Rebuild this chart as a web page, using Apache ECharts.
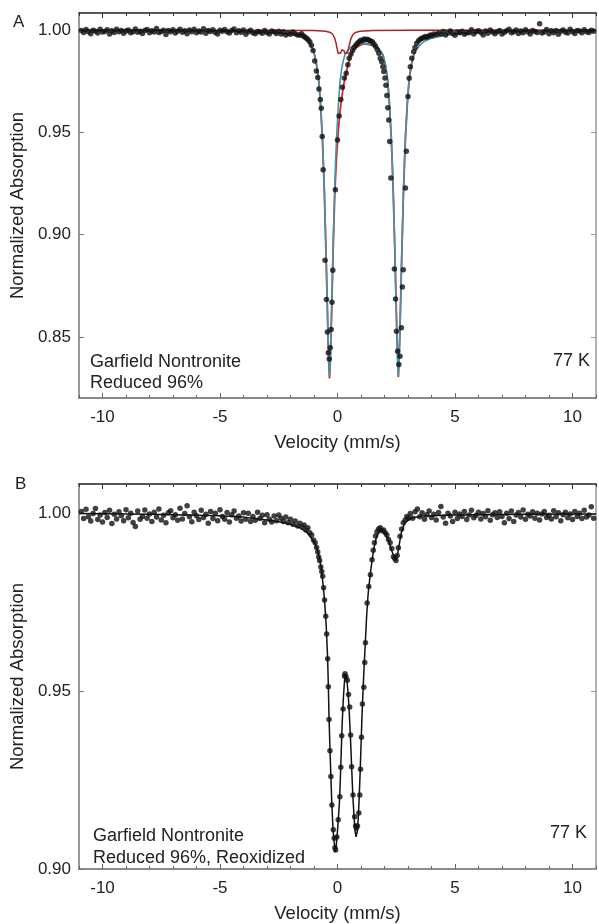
<!DOCTYPE html>
<html>
<head>
<meta charset="utf-8">
<script src="https://cdn.jsdelivr.net/npm/echarts@6/dist/echarts.min.js"></script>
<style>
html,body{margin:0;padding:0;background:#fff;}
#c{width:599px;height:924px;}
</style>
</head>
<body>
<div id="c"></div>
<script>
// ---------- data ----------
const velMajorTicks = [-10, -5, 0, 5, 10];
const absTicksA = [0.85, 0.90, 0.95, 1.00];
const absTicksB = [0.90, 0.95, 1.00];

// Panel A: measured points [velocity, normalized absorption]
const pointsA = [
[-10.9,0.9997],[-10.8,0.9988],[-10.7,1.0002],[-10.6,0.9992],[-10.5,0.9982],[-10.4,0.9999],[-10.3,0.9994],[-10.2,0.9985],[-10.1,1.0004],[-10.0,0.9990],
[-9.9,0.9993],[-9.8,1.0001],[-9.7,0.9980],[-9.6,0.9996],[-9.5,0.9988],[-9.4,1.0003],[-9.3,0.9991],[-9.2,0.9998],[-9.1,0.9984],[-9.0,0.9995],
[-8.9,1.0000],[-8.8,0.9987],[-8.7,0.9992],[-8.6,1.0005],[-8.5,0.9989],[-8.4,0.9994],[-8.3,0.9983],[-8.2,0.9997],[-8.1,1.0002],[-8.0,0.9986],
[-7.9,0.9996],[-7.8,0.9990],[-7.7,1.0007],[-7.6,0.9988],[-7.5,0.9993],[-7.4,0.9999],[-7.3,0.9978],[-7.2,0.9998],[-7.1,0.9991],[-7.0,1.0001],
[-6.9,0.9985],[-6.8,0.9994],[-6.7,1.0004],[-6.6,0.9989],[-6.5,0.9996],[-6.4,0.9982],[-6.3,1.0000],[-6.2,0.9992],[-6.1,1.0003],[-6.0,0.9987],
[-5.9,0.9995],[-5.8,0.9990],[-5.7,1.0006],[-5.6,0.9984],[-5.5,0.9997],[-5.4,0.9993],[-5.3,1.0001],[-5.2,0.9988],[-5.1,0.9981],[-5.0,0.9999],
[-4.9,0.9994],[-4.8,1.0002],[-4.7,0.9991],[-4.6,0.9985],[-4.5,0.9998],[-4.4,1.0005],[-4.3,0.9987],[-4.2,0.9996],[-4.1,0.9989],[-4.0,1.0000],
[-3.9,0.9979],[-3.8,0.9991],[-3.7,0.9999],[-3.6,0.9986],[-3.5,0.9982],[-3.4,0.9993],[-3.3,0.9990],[-3.2,0.9984],[-3.1,0.9997],[-3.0,0.9988],
[-2.9,0.9980],[-2.8,0.9995],[-2.7,0.9992],[-2.6,0.9983],[-2.5,0.9994],[-2.4,0.9981],[-2.3,0.9992],[-2.2,0.9975],[-2.1,0.9985],[-2.0,0.9979],
[-1.9,0.9990],[-1.8,0.9982],[-1.7,0.9976],
[-1.60,0.9975],[-1.53,0.9982],[-1.46,0.9972],[-1.39,0.9966],[-1.32,0.9960],[-1.25,0.9952],[-1.18,0.9943],[-1.11,0.9925],[-1.04,0.9900],
[-0.97,0.9848],[-0.90,0.9800],[-0.84,0.9768],[-0.79,0.9712],[-0.73,0.9660],[-0.69,0.9618],[-0.65,0.9480],[-0.61,0.9317],[-0.53,0.8875],
[-0.47,0.8683],[-0.43,0.8525],[-0.39,0.8423],[-0.35,0.8393],[-0.31,0.8447],[-0.27,0.8537],[-0.235,0.8670],[-0.20,0.8826],[-0.09,0.9220],
[0.00,0.9463],[0.07,0.9580],[0.14,0.9660],[0.21,0.9720],[0.29,0.9765],[0.37,0.9789],[0.44,0.9830],[0.50,0.9862],[0.57,0.9882],[0.64,0.9900],
[0.71,0.9915],[0.78,0.9925],[0.85,0.9935],[0.92,0.9942],[0.99,0.9950],[1.06,0.9948],[1.13,0.9956],[1.20,0.9952],[1.27,0.9955],[1.34,0.9950],
[1.41,0.9946],[1.48,0.9942],[1.55,0.9932],[1.62,0.9920],[1.69,0.9905],[1.76,0.9886],[1.82,0.9862],[1.88,0.9845],[1.93,0.9820],[1.97,0.9797],
[2.02,0.9765],[2.06,0.9730],[2.10,0.9680],[2.14,0.9620],[2.18,0.9560],[2.22,0.9455],[2.27,0.9277],[2.42,0.8832],[2.47,0.8686],[2.51,0.8528],
[2.56,0.8430],[2.61,0.8366],[2.66,0.8406],[2.72,0.8545],[2.76,0.8744],[2.80,0.8829],[2.89,0.9228],[2.93,0.9407],[3.00,0.9675],[3.05,0.9764],
[3.10,0.9820],[3.16,0.9862],[3.24,0.9894],[3.30,0.9915],[3.37,0.9935],[3.45,0.9948],[3.52,0.9955],[3.59,0.9960],[3.66,0.9962],[3.73,0.9968],
[3.80,0.9965],[3.87,0.9970],[3.95,0.9975],[4.02,0.9972],[4.10,0.9980],[4.20,0.9978],[4.29,0.9984],
[4.4,0.9981],[4.5,0.9993],[4.6,0.9976],[4.7,0.9988],[4.8,0.9995],[4.9,0.9983],[5.0,0.9974],[5.1,0.9990],[5.2,0.9986],[5.3,0.9994],
[5.4,0.9979],[5.5,0.9987],[5.6,0.9986],[5.7,1.0001],[5.8,0.9981],[5.9,0.9993],[6.0,0.9996],[6.1,0.9988],[6.2,0.9976],[6.3,0.9995],
[6.4,0.9984],[6.5,1.0000],[6.6,0.9990],[6.7,0.9982],[6.8,0.9992],[6.9,0.9997],[7.0,0.9981],[7.1,0.9989],[7.2,0.9996],[7.3,1.0004],
[7.4,0.9987],[7.5,0.9991],[7.6,1.0000],[7.7,0.9983],[7.8,0.9995],[7.9,0.9986],[8.0,1.0001],[8.1,0.9992],[8.2,0.9980],[8.3,0.9997],
[8.4,0.9993],[8.5,0.9988],[8.6,1.0030],[8.7,0.9985],[8.8,0.9990],[8.9,1.0002],[9.0,0.9982],[9.1,0.9996],[9.2,0.9987],[9.3,0.9998],
[9.4,0.9979],[9.5,0.9994],[9.6,1.0000],[9.7,0.9989],[9.8,0.9985],[9.9,1.0003],[10.0,0.9992],[10.1,0.9983],[10.2,0.9997],[10.3,0.9995],
[10.4,0.9986],[10.5,1.0001],[10.6,0.9991],[10.7,0.9988],[10.8,0.9999],[10.9,0.9994]
];

// Panel A: Fe2+ doublet fit (cyan)
const fitFe2A = [
[-11,0.9999],[-8,0.9998],[-6,0.9997],[-4,0.9993],[-3,0.9988],[-2.5,0.9984],[-2,0.9979],[-1.8,0.9976],[-1.6,0.9969],[-1.4,0.9960],
[-1.2,0.9936],[-1.1,0.9918],[-1.0,0.9892],[-0.95,0.9866],[-0.9,0.9838],[-0.85,0.9808],[-0.8,0.9762],[-0.76,0.9707],[-0.72,0.9640],[-0.68,0.9560],
[-0.64,0.9470],[-0.60,0.9360],[-0.56,0.9220],[-0.52,0.9060],[-0.48,0.8880],[-0.44,0.8680],[-0.40,0.8500],[-0.37,0.8380],[-0.34,0.8310],[-0.31,0.8380],
[-0.28,0.8500],[-0.24,0.8680],[-0.20,0.8880],[-0.16,0.9060],[-0.12,0.9220],[-0.08,0.9360],[-0.04,0.9470],[0.00,0.9560],[0.04,0.9640],[0.08,0.9707],
[0.12,0.9760],[0.17,0.9805],[0.22,0.9835],[0.27,0.9860],[0.32,0.9880],[0.42,0.9898],[0.52,0.9912],[0.7,0.9924],[0.9,0.9931],[1.13,0.9934],
[1.35,0.9931],[1.55,0.9924],[1.73,0.9912],[1.83,0.9898],[1.93,0.9880],[1.98,0.9860],[2.03,0.9835],[2.08,0.9805],[2.13,0.9760],[2.17,0.9707],
[2.21,0.9640],[2.25,0.9560],[2.29,0.9470],[2.33,0.9360],[2.37,0.9220],[2.41,0.9060],[2.45,0.8880],[2.49,0.8680],[2.53,0.8500],[2.56,0.8380],
[2.59,0.8310],[2.62,0.8380],[2.65,0.8500],[2.69,0.8680],[2.73,0.8880],[2.77,0.9060],[2.81,0.9220],[2.85,0.9360],[2.89,0.9470],[2.93,0.9560],
[2.97,0.9640],[3.01,0.9707],[3.05,0.9760],[3.10,0.9805],[3.15,0.9835],[3.20,0.9860],[3.25,0.9880],[3.35,0.9902],[3.5,0.9925],[3.7,0.9945],
[4.0,0.9960],[4.5,0.9972],[5,0.9980],[6,0.9988],[8,0.9995],[11,0.9998]
];

// Panel A: total fit (red)
const fitTotalA = [
[-1.0,0.9889],[-0.9,0.9834],[-0.8,0.9756],[-0.72,0.9632],[-0.64,0.9462],[-0.56,0.9210],[-0.48,0.8869],[-0.40,0.8490],[-0.37,0.8369],[-0.34,0.8298],
[-0.31,0.8367],[-0.28,0.8484],[-0.24,0.8660],[-0.20,0.8858],[-0.16,0.9030],[-0.12,0.9180],[-0.08,0.9290],[-0.04,0.9380],[0.00,0.9450],[0.04,0.9515],
[0.08,0.9570],[0.12,0.9615],[0.17,0.9660],[0.22,0.9700],[0.27,0.9735],[0.32,0.9765],[0.37,0.9790],[0.42,0.9815],[0.47,0.9840],[0.52,0.9860],
[0.58,0.9880],[0.66,0.9898],[0.76,0.9912],[0.96,0.9926],[1.13,0.9932],[1.35,0.9929],[1.55,0.9922],[1.73,0.9910],[1.83,0.9896],[1.93,0.9878],
[2.03,0.9833],[2.13,0.9758],[2.21,0.9638],[2.29,0.9468],[2.37,0.9218],[2.45,0.8878],[2.53,0.8498],[2.59,0.8305],[2.65,0.8498],[2.73,0.8878],
[2.81,0.9218],[2.89,0.9468],[2.97,0.9638],[3.05,0.9758],[3.15,0.9833],[3.25,0.9878]
];

// Panel A: Fe3+ doublet fit (dark red)
const fitFe3A = [
[-11,1.0000],[-1.0,0.9998],[-0.5,0.9994],[-0.3,0.9988],[-0.2,0.9978],[-0.12,0.9960],[-0.06,0.9935],[-0.02,0.9910],[0.03,0.9885],[0.08,0.9878],
[0.13,0.9888],[0.18,0.9902],[0.225,0.9906],[0.27,0.9900],[0.32,0.9885],[0.37,0.9878],[0.42,0.9888],[0.47,0.9910],[0.52,0.9935],[0.58,0.9960],
[0.66,0.9978],[0.76,0.9988],[0.96,0.9994],[1.5,0.9998],[3,0.9999],[11,1.0000]
];

// Panel B: measured points
const pointsB = [
[-10.9,1.0004],[-10.8,0.9984],[-10.7,1.0010],[-10.6,0.9989],[-10.5,0.9977],[-10.4,0.9998],[-10.3,1.0012],[-10.2,0.9981],[-10.1,0.9994],[-10.0,0.9974],
[-9.9,1.0001],[-9.8,0.9987],[-9.7,1.0007],[-9.6,0.9970],[-9.5,0.9996],[-9.4,0.9983],[-9.3,1.0003],[-9.2,0.9992],[-9.1,0.9978],[-9.0,1.0009],
[-8.9,0.9986],[-8.8,0.9999],[-8.7,0.9973],[-8.6,0.9962],[-8.5,1.0005],[-8.4,0.9982],[-8.3,0.9990],[-8.2,1.0008],[-8.1,0.9985],[-8.0,0.9997],
[-7.9,0.9976],[-7.8,1.0002],[-7.7,0.9988],[-7.6,1.0011],[-7.5,0.9980],[-7.4,0.9993],[-7.3,0.9972],[-7.2,1.0000],[-7.1,1.0006],[-7.0,0.9986],
[-6.9,0.9995],[-6.8,0.9979],[-6.7,1.0013],[-6.6,0.9983],[-6.5,0.9998],[-6.4,1.0020],[-6.3,0.9989],[-6.2,0.9975],[-6.1,1.0002],[-6.0,0.9992],
[-5.9,0.9981],[-5.8,1.0007],[-5.7,0.9987],[-5.6,0.9996],[-5.5,0.9971],[-5.4,1.0004],[-5.3,0.9984],[-5.2,0.9999],[-5.1,0.9978],[-5.0,1.0009],
[-4.9,0.9990],[-4.8,0.9982],[-4.7,1.0001],[-4.6,0.9974],[-4.5,0.9995],[-4.4,1.0005],[-4.3,0.9985],[-4.2,0.9991],[-4.1,0.9977],[-4.0,1.0000],
[-3.9,0.9982],[-3.8,0.9999],[-3.7,0.9976],[-3.6,0.9990],[-3.5,0.9979],[-3.4,1.0002],[-3.3,0.9984],[-3.2,0.9993],[-3.1,0.9972],[-3.0,0.9995],
[-2.9,0.9982],[-2.8,0.9974],[-2.7,0.9991],[-2.6,0.9978],[-2.5,0.9994],
[-2.4,0.9985],[-2.3,0.9976],[-2.2,0.9988],[-2.1,0.9972],[-2.0,0.9982],[-1.9,0.9968],[-1.8,0.9977],[-1.7,0.9963],[-1.6,0.9971],[-1.5,0.9960],
[-1.42,0.9966],[-1.34,0.9952],[-1.26,0.9958],[-1.18,0.9944],[-1.10,0.9938],[-1.02,0.9924],[-0.95,0.9916],[-0.89,0.9903],[-0.84,0.9890],[-0.80,0.9876],
[-0.76,0.9866],[-0.71,0.9848],[-0.67,0.9835],[-0.63,0.9822],[-0.59,0.9790],[-0.55,0.9755],[-0.50,0.9710],[-0.46,0.9660],[-0.42,0.9590],[-0.39,0.9512],
[-0.36,0.9420],[-0.32,0.9332],[-0.28,0.9260],[-0.24,0.9180],[-0.18,0.9110],[-0.14,0.9086],[-0.11,0.9060],[-0.08,0.9053],[-0.03,0.9090],[0.03,0.9138],
[0.10,0.9203],[0.14,0.9286],[0.18,0.9374],[0.24,0.9449],[0.30,0.9542],[0.32,0.9548],[0.36,0.9540],[0.42,0.9530],[0.47,0.9490],[0.52,0.9455],
[0.56,0.9376],[0.60,0.9287],[0.66,0.9208],[0.73,0.9147],[0.77,0.9121],[0.80,0.9115],[0.85,0.9121],[0.91,0.9157],[0.95,0.9208],[0.98,0.9280],
[1.02,0.9370],[1.06,0.9463],[1.12,0.9510],[1.16,0.9580],[1.19,0.9635],[1.26,0.9747],[1.33,0.9793],[1.40,0.9826],[1.47,0.9868],[1.52,0.9895],
[1.57,0.9916],[1.62,0.9935],[1.68,0.9947],[1.75,0.9955],[1.82,0.9958],[1.89,0.9950],[1.96,0.9952],[2.03,0.9944],[2.10,0.9938],[2.17,0.9925],
[2.24,0.9916],[2.31,0.9900],[2.38,0.9877],[2.44,0.9872],[2.49,0.9866],[2.54,0.9880],[2.59,0.9902],[2.66,0.9934],[2.73,0.9955],[2.80,0.9972],
[2.88,0.9980],[2.95,0.9990],[3.02,0.9985],
[3.1,0.9998],[3.2,0.9985],[3.3,1.0003],[3.4,1.0011],[3.5,0.9989],[3.6,1.0000],[3.7,0.9982],[3.8,0.9995],[3.9,1.0005],[4.0,0.9987],
[4.1,0.9996],[4.2,0.9980],[4.3,1.0001],[4.4,1.0018],[4.5,0.9988],[4.6,0.9971],[4.7,0.9999],[4.8,0.9991],[4.9,0.9976],[5.0,1.0002],
[5.1,0.9984],[5.2,0.9997],[5.3,0.9990],[5.4,1.0004],[5.5,0.9981],[5.6,0.9994],[5.7,1.0007],[5.8,0.9986],[5.9,0.9993],[6.0,1.0002],
[6.1,0.9983],[6.2,0.9998],[6.3,0.9989],[6.4,1.0006],[6.5,0.9979],[6.6,0.9995],[6.7,1.0000],[6.8,0.9987],[6.9,1.0003],[7.0,0.9990],
[7.1,0.9972],[7.2,0.9999],[7.3,0.9984],[7.4,1.0005],[7.5,0.9976],[7.6,0.9994],[7.7,1.0001],[7.8,0.9988],[7.9,1.0008],[8.0,0.9982],
[8.1,0.9996],[8.2,0.9991],[8.3,1.0003],[8.4,0.9985],[8.5,0.9999],[8.6,0.9980],[8.7,0.9997],[8.8,1.0004],[8.9,0.9987],[9.0,0.9993],
[9.1,0.9983],[9.2,1.0006],[9.3,0.9989],[9.4,1.0000],[9.5,0.9978],[9.6,0.9995],[9.7,1.0002],[9.8,0.9986],[9.9,0.9997],[10.0,0.9981],
[10.1,1.0004],[10.2,0.9990],[10.3,0.9999],[10.4,0.9984],[10.5,1.0007],[10.6,0.9988],[10.7,0.9994],[10.8,1.0017],[10.9,0.9985]
];

// Panel B: fit (black)
const fitB = [
[-11,0.9998],[-8,0.9996],[-5,0.9992],[-4,0.9988],[-3,0.9980],[-2.5,0.9975],[-2.0,0.9968],[-1.6,0.9958],[-1.3,0.9945],[-1.1,0.9928],
[-0.95,0.9912],[-0.85,0.9895],[-0.76,0.9870],[-0.68,0.9838],[-0.60,0.9790],[-0.55,0.9752],[-0.50,0.9705],[-0.46,0.9655],[-0.42,0.9590],[-0.39,0.9515],
[-0.36,0.9425],[-0.32,0.9335],[-0.28,0.9255],[-0.24,0.9180],[-0.19,0.9110],[-0.14,0.9075],[-0.10,0.9048],[-0.06,0.9060],[-0.02,0.9090],[0.03,0.9135],
[0.08,0.9185],[0.12,0.9250],[0.16,0.9330],[0.20,0.9410],[0.25,0.9480],[0.30,0.9530],[0.35,0.9545],[0.40,0.9530],[0.45,0.9495],[0.50,0.9440],
[0.55,0.9370],[0.60,0.9290],[0.65,0.9210],[0.70,0.9150],[0.75,0.9105],[0.79,0.9090],[0.84,0.9105],[0.88,0.9140],[0.92,0.9195],[0.96,0.9265],
[1.00,0.9345],[1.04,0.9425],[1.08,0.9490],[1.13,0.9565],[1.18,0.9630],[1.24,0.9710],[1.30,0.9770],[1.38,0.9820],[1.46,0.9862],[1.55,0.9900],
[1.65,0.9930],[1.78,0.9948],[1.92,0.9950],[2.05,0.9940],[2.18,0.9920],[2.30,0.9895],[2.40,0.9878],[2.47,0.9870],[2.55,0.9882],[2.63,0.9912],
[2.72,0.9945],[2.85,0.9970],[3.1,0.9985],[3.6,0.9991],[5,0.9994],[8,0.9996],[11,0.9997]
];

// ---------- chart ----------
const FONT = '"Liberation Sans", Arial, Helvetica, sans-serif';
const TXT = '#222';
const chart = echarts.init(document.getElementById('c'), null, {renderer: 'canvas'});

function xAxesFor(gi) {
  const base = {
    type: 'value', gridIndex: gi, min: -11, max: 11, interval: 1,
    splitLine: {show: false}
  };
  return [
    Object.assign({}, base, {
      position: 'bottom',
      axisLine: {onZero: false, lineStyle: {color: '#666', width: 1.5}},
      axisTick: {inside: true, length: 3, lineStyle: {color: '#666', width: 1}},
      axisLabel: {
        fontSize: 17, color: TXT, fontFamily: FONT, margin: 11,
        formatter: v => (Math.abs(v % 5) < 1e-9 ? String(v) : '')
      },
      name: 'Velocity (mm/s)', nameLocation: 'middle', nameGap: 35,
      nameTextStyle: {fontSize: 18.5, color: TXT, fontFamily: FONT}
    }),
    Object.assign({}, base, {
      position: 'bottom',
      axisLine: {show: false, onZero: false},
      axisTick: {inside: true, length: 5, customValues: velMajorTicks, lineStyle: {color: '#666', width: 1}},
      axisLabel: {show: false}
    }),
    Object.assign({}, base, {
      position: 'top',
      axisLine: {onZero: false, lineStyle: {color: '#222', width: 1.5}},
      axisTick: {inside: true, length: 3, lineStyle: {color: '#333', width: 1}},
      axisLabel: {show: false}
    }),
    Object.assign({}, base, {
      position: 'top',
      axisLine: {show: false, onZero: false},
      axisTick: {inside: true, length: 5, customValues: velMajorTicks, lineStyle: {color: '#333', width: 1}},
      axisLabel: {show: false}
    })
  ];
}

function yAxesFor(gi, min, max, ticks) {
  return [
    {
      type: 'value', gridIndex: gi, min: min, max: max, position: 'left',
      splitLine: {show: false},
      axisLine: {show: true, onZero: false, lineStyle: {color: '#777', width: 1.5}},
      axisTick: {show: true, inside: true, length: 5, customValues: ticks, lineStyle: {color: '#777'}},
      axisLabel: {
        customValues: ticks, fontSize: 17, color: TXT, fontFamily: FONT, margin: 8,
        formatter: v => v.toFixed(2)
      },
      name: 'Normalized Absorption', nameLocation: 'middle', nameRotate: 90, nameGap: 48,
      nameTextStyle: {fontSize: 18.5, color: TXT, fontFamily: FONT}
    },
    {
      type: 'value', gridIndex: gi, min: min, max: max, position: 'right',
      splitLine: {show: false},
      axisLine: {show: true, onZero: false, lineStyle: {color: '#999', width: 1.5}},
      axisTick: {show: true, inside: true, length: 5, customValues: ticks, lineStyle: {color: '#999'}},
      axisLabel: {show: false}
    }
  ];
}

const option = {
  animation: false,
  backgroundColor: '#fff',
  grid: [
    {left: 77, top: 13, width: 521, height: 385},
    {left: 79, top: 484, width: 519, height: 385}
  ],
  xAxis: xAxesFor(0).concat(xAxesFor(1)),
  yAxis: yAxesFor(0, 0.8202, 1.0083, absTicksA).concat(yAxesFor(1, 0.90, 1.0081, absTicksB)),
  series: [
    {type: 'line', xAxisIndex: 0, yAxisIndex: 0, data: fitTotalA, showSymbol: false,
     lineStyle: {color: '#e3231f', width: 1.8}, z: 2},
    {type: 'line', xAxisIndex: 0, yAxisIndex: 0, data: fitFe2A, showSymbol: false,
     lineStyle: {color: '#3f97ad', width: 1.6}, z: 3},
    {type: 'line', xAxisIndex: 0, yAxisIndex: 0, data: fitFe3A, showSymbol: false,
     lineStyle: {color: '#a3262a', width: 1.5}, z: 3},
    {type: 'scatter', xAxisIndex: 0, yAxisIndex: 0, data: pointsA, symbolSize: 5.5,
     itemStyle: {color: '#111'}, z: 5},
    {type: 'line', xAxisIndex: 4, yAxisIndex: 2, data: fitB, showSymbol: false,
     lineStyle: {color: '#111', width: 1.5}, z: 3},
    {type: 'scatter', xAxisIndex: 4, yAxisIndex: 2, data: pointsB, symbolSize: 5.5,
     itemStyle: {color: '#111'}, z: 5}
  ],
  graphic: [
    {type: 'text', left: 13, top: 14, style: {text: 'A', font: '17px ' + FONT, fill: TXT}},
    {type: 'text', left: 15, top: 476, style: {text: 'B', font: '17px ' + FONT, fill: TXT}},
    {type: 'text', left: 90, top: 352, style: {text: 'Garfield Nontronite\nReduced 96%', font: '18px ' + FONT, fill: TXT, lineHeight: 21}},
    {type: 'text', right: 9, top: 352, style: {text: '77 K', font: '18px ' + FONT, fill: TXT}},
    {type: 'text', left: 93, top: 825, style: {text: 'Garfield Nontronite\nReduced 96%, Reoxidized', font: '18px ' + FONT, fill: TXT, lineHeight: 22}},
    {type: 'text', right: 12, top: 824, style: {text: '77 K', font: '18px ' + FONT, fill: TXT}}
  ]
};
chart.setOption(option);
</script>
</body>
</html>
